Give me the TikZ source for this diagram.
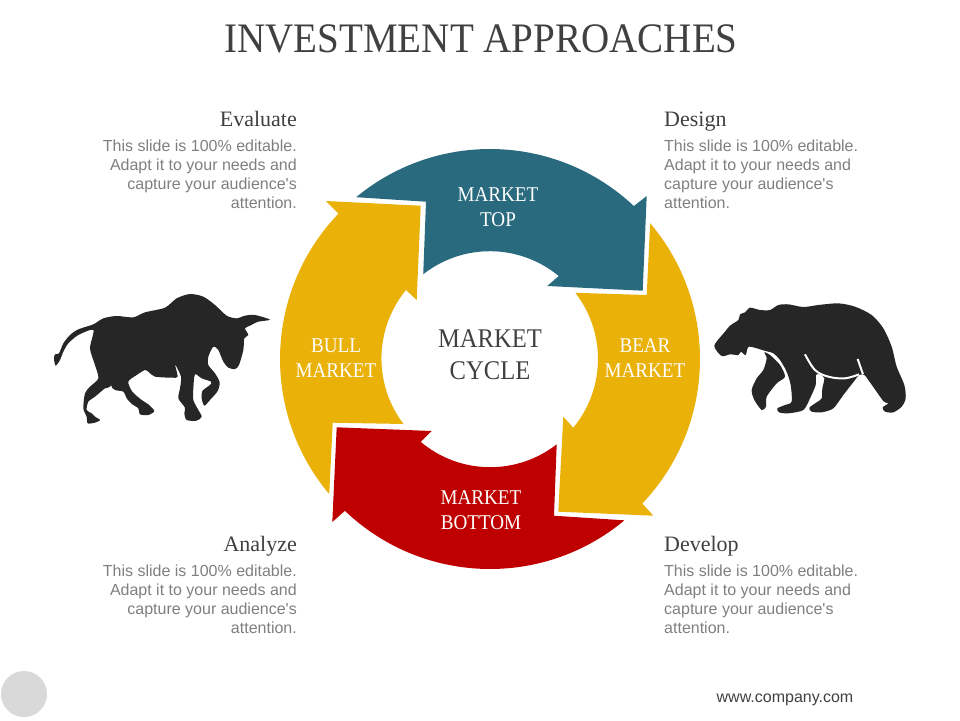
\documentclass[tikz,border=0pt]{standalone}
\usepackage{fontspec}
\setmainfont{Liberation Serif}
\newfontfamily\bodyfont{Liberation Sans}
\newfontfamily\titlefont[FakeStretch=0.93]{Liberation Serif}
\newfontfamily\labelfont[FakeStretch=0.91]{Liberation Serif}
\definecolor{topblue}{HTML}{296A7F}
\definecolor{sideyellow}{HTML}{EAB109}
\definecolor{bottomred}{HTML}{BE0000}
\definecolor{darktext}{HTML}{404040}
\definecolor{greytext}{HTML}{7F7F7F}
\definecolor{animal}{HTML}{262626}
\tikzset{
  heading/.style={font=\fontsize{22}{24}\selectfont,text=darktext,inner sep=0pt},
  bodytext/.style={font=\bodyfont\fontsize{16}{19}\selectfont,text=greytext,inner sep=0pt},
  arrowlabel/.style={font=\labelfont\fontsize{21}{25}\selectfont,text=white,align=center,inner sep=0pt},
}
\begin{document}
\begin{tikzpicture}[x=1pt,y=-1pt]
 \useasboundingbox (0,0) rectangle (960,720);
 \path (490,359) coordinate (O);
 % the four arrows of the ring
 \fill[topblue] (O) ++(129.6:210pt) arc[start angle=129.6,end angle=46.75,radius=210pt]
   -- (646.7,196) -- (642.7,290.7) -- (547.3,286) -- (558.7,276)
   arc[start angle=50.4,end angle=128.1,radius=108pt] -- (426,201.7) -- cycle;
 \fill[sideyellow] (O) ++(40.3:210pt) arc[start angle=40.3,end angle=-43.5,radius=210pt]
   -- (653.3,515.7) -- (558.3,511.7) -- (563.3,416.7) -- (573.3,427.7)
   arc[start angle=-39.5,end angle=37.8,radius=108pt] -- (646.7,295) -- cycle;
 \fill[bottomred] (O) ++(-133.7:210pt) arc[start angle=-133.7,end angle=-50.2,radius=210pt]
   -- (554,515.7) -- (556.7,444.3)
   arc[start angle=-52,end angle=-130,radius=108pt] -- (431.7,431) -- (336.7,427.3)
   -- (332.3,522) -- cycle;
 \fill[sideyellow] (O) ++(219.8:210pt) arc[start angle=219.8,end angle=136.2,radius=210pt]
   -- (326,201) -- (420.7,205.7) -- (416.7,300) -- (406,290)
   arc[start angle=140.6,end angle=217.3,radius=108pt] -- (332.7,422.7) -- (329.3,492.7) -- cycle;
 % labels
 \node[inner sep=0pt,font=\titlefont\fontsize{42}{50}\selectfont,text=darktext] (title) at (481,39) {INVESTMENT APPROACHES};
 \node[arrowlabel] (markettop) at (498,207.5) {MARKET\\TOP};
 \node[arrowlabel] (bullmarket) at (336,358.5) {BULL\\MARKET};
 \node[arrowlabel] (bearmarket) at (645,358.5) {BEAR\\MARKET};
 \node[arrowlabel] (marketbottom) at (481,510.5) {MARKET\\BOTTOM};
 \node[inner sep=0pt,align=center,text=darktext,font=\labelfont\fontsize{27}{32}\selectfont] (marketcycle) at (490,355) {MARKET\\CYCLE};
 % text blocks
 \foreach \Nam/\Head/\X/\Y/\Anc/\Ali in {evaluate/Evaluate/297/126/east/right,design/Design/664/126/west/left,
   analyze/Analyze/297/551/east/right,develop/Develop/664/551/west/left}
 {\node[heading,anchor=base \Anc] (\Nam) at (\X,\Y) {\Head};
  \node[bodytext,align=\Ali,anchor=north \Anc] (\Nam text) at (\X,\Y+13.5)
   {This slide is 100\% editable.\\Adapt it to your needs and\\capture your audience's\\attention.};}
 \fill[gray!30] (24,694) circle[radius=23pt];
 \node[inner sep=0pt,font=\bodyfont\fontsize{16}{19}\selectfont,text=darktext,anchor=base east] (website) at (853.5,702.5) {www.company.com};
 % bull
 \begin{scope}[shift={(45,285)},x=1/3*1pt,y=-1/3*1pt]
  \fill[animal] plot[smooth cycle,tension=.45] coordinates {(32,242) (27,222) (30,208) (42,205) (55,175) (75,150)
   (100,133) (145,118) (175,100) (215,93) (265,97) (300,82) (360,68) (395,40) (435,27) (475,35) (510,60)
   (545,92) (575,100) (600,92) (630,90) (675,104) (640,110) (615,122) (600,130) (610,150) (598,160) (595,195)
   (582,240) (570,252) (550,248) (535,230) (520,195) (505,185) (490,215) (490,240) (510,265) (524,292)
   (518,318) (495,345) (478,362) (470,340) (472,318) (495,300) (498,290) (470,280) (450,268) (445,310)
   (445,345) (460,375) (470,395) (455,407) (425,405) (418,385) (420,368) (400,340) (405,310) (408,275)
   (390,238) (398,275) (380,278) (330,275) (312,262) (300,255) (275,270) (250,290) (262,320) (290,345)
   (310,358) (328,378) (310,390) (285,388) (280,370) (262,358) (245,340) (235,320) (210,315) (198,300)
   (218,262) (195,305) (180,310) (150,335) (130,350) (125,375) (140,385) (150,395) (165,405) (150,413)
   (128,415) (125,395) (115,370) (120,325) (135,305) (160,280) (150,240) (135,190) (145,135) (100,150)
   (70,175) (55,200) (45,225)};
 \end{scope}
 % bear
 \begin{scope}[shift={(705,295)},x=1/3*1pt,y=-1/3*1pt]
  \fill[animal] plot[smooth cycle,tension=.45] coordinates {(28,152) (60,110) (75,92) (100,75) (105,58) (120,52)
   (135,38) (165,45) (195,45) (220,30) (250,28) (295,36) (340,30) (400,25) (450,35) (500,60) (535,100)
   (560,155) (575,215) (598,270) (602,310) (590,335) (565,352) (540,350) (533,337) (550,325) (535,318)
   (495,262) (478,240) (462,240) (450,255) (415,300) (385,340) (350,352) (320,350) (313,338) (335,322)
   (350,310) (352,280) (358,250) (345,238) (333,240) (332,270) (315,310) (295,345) (250,355) (222,352)
   (217,340) (240,330) (260,320) (257,270) (245,230) (225,195) (205,175) (178,167) (132,155) (122,180)
   (108,170) (100,180) (75,178) (50,183)};
  \fill[animal] plot[smooth cycle,tension=.45] coordinates {(178,172) (195,180) (225,210) (240,245) (215,265)
   (185,305) (183,335) (170,345) (148,315) (140,285) (155,250) (175,225) (185,190)};
  \draw[white,line width=2pt] plot[smooth,tension=.6] coordinates {(300,178) (330,225) (370,245) (420,250) (462,238)};
  \draw[white,line width=2pt] (458,192) -- (474,238);
 \end{scope}
\end{tikzpicture}
\end{document}
